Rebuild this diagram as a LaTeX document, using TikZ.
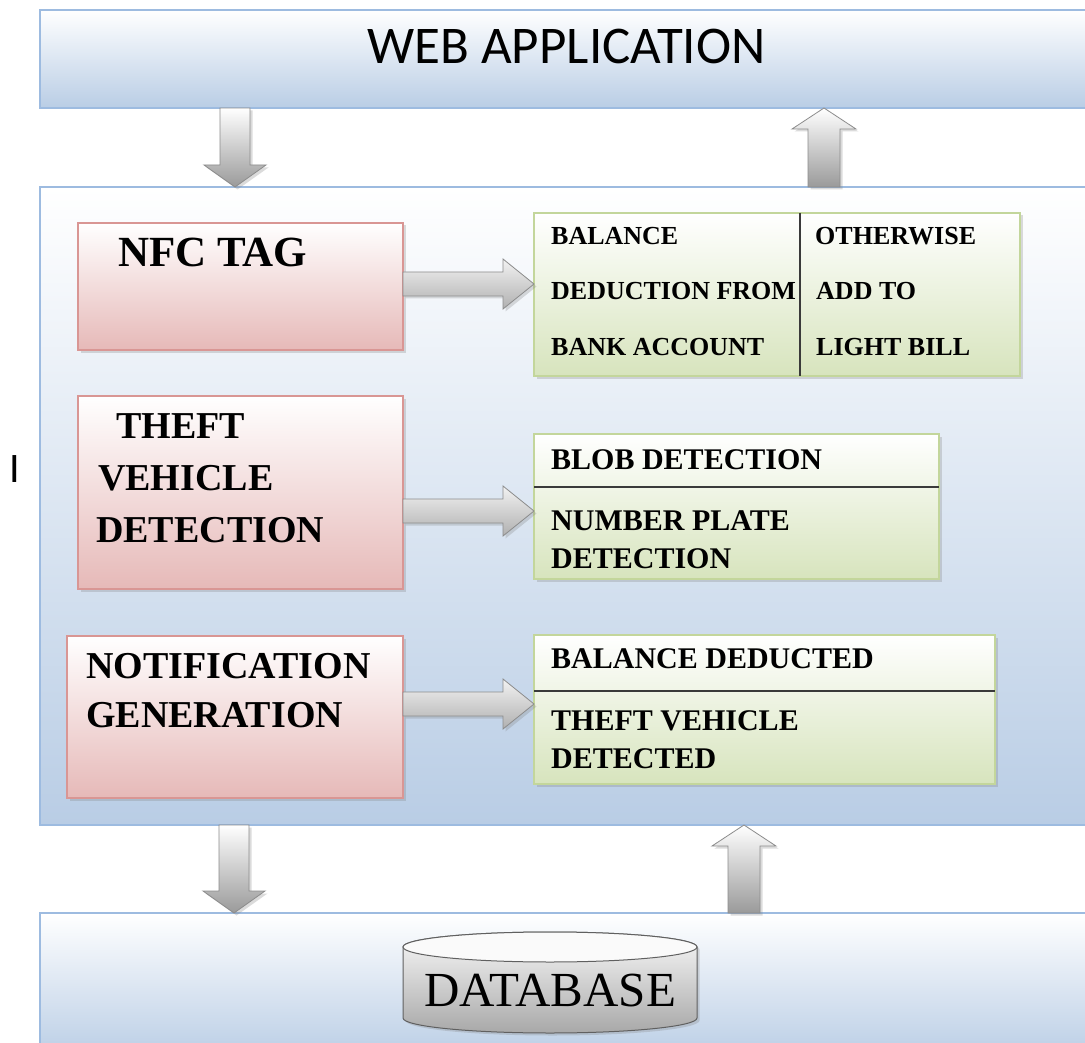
\documentclass[tikz,border=0pt]{standalone}
\usepackage{fontspec}
\setmainfont{Liberation Serif}
\newfontfamily\calfont{Carlito}
\usetikzlibrary{calc,shadows}
\definecolor{bluebot}{HTML}{B9CDE5}
\definecolor{blueline}{HTML}{9DBBE0}
\definecolor{pinkbot}{HTML}{E6B9B8}
\definecolor{pinkline}{HTML}{D99694}
\definecolor{greenbot}{HTML}{D7E4BD}
\definecolor{greenline}{HTML}{C3D69B}
\definecolor{arrline}{HTML}{8C8C8C}
\definecolor{arrdark}{HTML}{9A9A9A}
\definecolor{divline}{HTML}{3A3A3A}
\tikzset{
  boxbase/.style={inner sep=0pt, outer sep=0pt, line width=1.2pt},
  softshadow/.style={drop shadow={shadow xshift=2.5pt, shadow yshift=-2.5pt, opacity=0.28}},
  bluebox/.style={boxbase, draw=blueline, top color=white, bottom color=bluebot},
  pinkbox/.style={boxbase, draw=pinkline, top color=white, bottom color=pinkbot, softshadow},
  greenbox/.style={boxbase, draw=greenline, top color=white, bottom color=greenbot, softshadow},
  bigtxt/.style={inner sep=0pt, anchor=base west, font=\bfseries\fontsize{38}{40}\selectfont},
  gtxtA/.style={inner sep=0pt, anchor=base west, font=\bfseries\fontsize{26}{28}\selectfont},
  gtxtB/.style={inner sep=0pt, anchor=base west, font=\bfseries\fontsize{30}{32}\selectfont},
  harrow/.style={draw=arrline, line width=0.8pt, top color=gray!10, bottom color=gray!62, softshadow},
  varrow/.style={draw=arrline, line width=0.8pt, top color=white, bottom color=arrdark, softshadow},
  divider/.style={draw=divline, line width=1.5pt},
}
% box from (x1,y1) to (x2,y2)
\newcommand\mkbox[6]{\node[#1, minimum width={(#5-#3)*1pt}, minimum height={(#6-#4)*1pt}] (#2) at ({(#3+#5)/2},{(#4+#6)/2}) {};}
% horizontal block arrow: start x from #1, tip at #2
\newcommand\rarrow[2]{\path[harrow] let \p1=(#1), \p2=(#2) in
  (\x1,\y2+12pt) -- (\x2-31pt,\y2+12pt) -- (\x2-31pt,\y2+25pt) -- (\x2,\y2)
  -- (\x2-31pt,\y2-25pt) -- (\x2-31pt,\y2-12pt) -- (\x1,\y2-12pt) -- cycle;}
% downward block arrow: start y from #1, tip at #2
\newcommand\darrow[2]{\path[varrow] let \p1=(#1), \p2=(#2) in
  (\x2-15pt,\y1) -- (\x2-15pt,\y2+22pt) -- (\x2-31pt,\y2+22pt) -- (\x2,\y2)
  -- (\x2+31pt,\y2+22pt) -- (\x2+15pt,\y2+22pt) -- (\x2+15pt,\y1) -- cycle;}
% upward block arrow: start y from #1, tip at #2
\newcommand\uarrow[2]{\path[varrow] let \p1=(#1), \p2=(#2) in
  (\x2-16pt,\y1) -- (\x2-16pt,\y2-21pt) -- (\x2-32pt,\y2-21pt) -- (\x2,\y2)
  -- (\x2+32pt,\y2-21pt) -- (\x2+16pt,\y2-21pt) -- (\x2+16pt,\y1) -- cycle;}
\begin{document}
\begin{tikzpicture}[x=1pt,y=-1pt]
\useasboundingbox (0,0) rectangle (1085,1043);
\clip (0,0) rectangle (1085,1043);
\fill[white] (0,0) rectangle (1085,1043);

% layers
\mkbox{bluebox}{web}{40}{10}{1100}{108}
\mkbox{bluebox}{mid}{40}{187}{1100}{825}
\mkbox{bluebox}{dbbox}{40}{913}{1100}{1060}

\node[inner sep=0pt, anchor=base] (webtxt) at (566.5,64) {\calfont\fontsize{53}{60}\selectfont WEB APPLICATION};
\node[inner sep=0pt, anchor=base] (mark) at (14.5,482) {\calfont\fontsize{42}{44}\selectfont I};

% left boxes
\mkbox{pinkbox}{nfc}{78}{223}{403}{350}
\mkbox{pinkbox}{theft}{78}{396}{403}{589}
\mkbox{pinkbox}{notif}{67}{636}{403}{798}

\node[inner sep=0pt, anchor=base west, font=\bfseries\fontsize{43}{45}\selectfont] (nfctxt) at (118,267) {NFC TAG};
\node[bigtxt] (th1) at (116,438) {THEFT};
\node[bigtxt] (th2) at (98,490) {VEHICLE};
\node[bigtxt] (th3) at (96,542) {DETECTION};
\node[bigtxt] (no1) at (86,678) {NOTIFICATION};
\node[bigtxt] (no2) at (86,727) {GENERATION};

% right boxes
\mkbox{greenbox}{g1}{534}{213}{1020}{376}
\draw[divider] (800,213) -- (800,376);
\node[gtxtA] (g1a) at (551,245) {BALANCE};
\node[gtxtA] (g1b) at (551,299) {DEDUCTION FROM};
\node[gtxtA] (g1c) at (551,355) {BANK ACCOUNT};
\node[gtxtA] (g1d) at (815,245) {OTHERWISE};
\node[gtxtA] (g1e) at (816,299) {ADD TO};
\node[gtxtA] (g1f) at (816,355) {LIGHT BILL};

\mkbox{greenbox}{g2}{534}{434}{939}{579}
\draw[divider] (534,487) -- (939,487);
\node[gtxtB] (g2a) at (551,469) {BLOB DETECTION};
\node[gtxtB] (g2b) at (551,530) {NUMBER PLATE};
\node[gtxtB] (g2c) at (551,568) {DETECTION};

\mkbox{greenbox}{g3}{534}{635}{995}{784}
\draw[divider] (534,691) -- (995,691);
\node[gtxtB] (g3a) at (551,668) {BALANCE DEDUCTED};
\node[gtxtB] (g3b) at (551,730) {THEFT VEHICLE};
\node[gtxtB] (g3c) at (551,768) {DETECTED};

% horizontal arrows
\coordinate (r1) at (0,284);
\coordinate (r2) at (0,511);
\coordinate (r3) at (0,704);
\rarrow{nfc.east |- r1}{g1.west |- r1}
\rarrow{theft.east |- r2}{g2.west |- r2}
\rarrow{notif.east |- r3}{g3.west |- r3}

% vertical arrows
\coordinate (v1) at (235,0);
\coordinate (v2) at (824,0);
\coordinate (v3) at (234,0);
\coordinate (v4) at (744,0);
\darrow{web.south -| v1}{mid.north -| v1}
\uarrow{mid.north -| v2}{web.south -| v2}
\darrow{mid.south -| v3}{dbbox.north -| v3}
\uarrow{dbbox.north -| v4}{mid.south -| v4}

% database cylinder
\path[draw=gray!75!black, line width=1pt, top color=gray!5, bottom color=gray!68, softshadow]
  (403,947) -- (403,1018) arc[start angle=180, end angle=0, x radius=147, y radius=15]
  -- (697,947) arc[start angle=0, end angle=-180, x radius=147, y radius=15] -- cycle;
\draw[draw=gray!75!black, line width=1pt, fill=gray!4] (550,947) ellipse[x radius=147, y radius=15];
\node[inner sep=0pt, anchor=base] (dbtxt) at (550,1006) {\fontsize{49}{52}\selectfont DATABASE};
\end{tikzpicture}
\end{document}
